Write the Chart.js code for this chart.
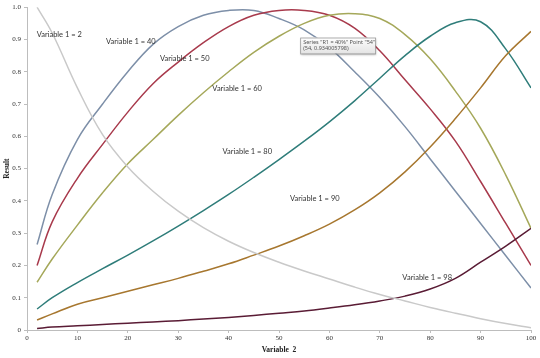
<!DOCTYPE html>
<html>
<head>
<meta charset="utf-8">
<script src="https://cdn.jsdelivr.net/npm/chart.js@4"></script>
<style>
  html, body { margin: 0; padding: 0; background: #fff; }
  #wrap { width: 540px; height: 358px; }
</style>
</head>
<body>
<div id="wrap"><canvas id="chart" width="540" height="358"></canvas></div>
<script>
// x positions (Variable 2)
const xs = [2, 5, 10, 15, 20, 25, 30, 35, 40, 45, 50, 55, 60, 65, 70, 75, 80, 85, 90, 95, 100];

// Result for each Variable 1 value
const v2  = [1.0, 0.92, 0.75, 0.605, 0.505, 0.43, 0.368, 0.317, 0.275, 0.24, 0.21, 0.183, 0.158, 0.133, 0.11, 0.09, 0.07, 0.052, 0.035, 0.02, 0.007];
const v40 = [0.265, 0.42, 0.59, 0.70, 0.80, 0.885, 0.94, 0.975, 0.99, 0.99, 0.965, 0.93, 0.875, 0.80, 0.72, 0.63, 0.53, 0.43, 0.33, 0.23, 0.13];
const v50 = [0.20, 0.335, 0.47, 0.575, 0.675, 0.763, 0.83, 0.89, 0.94, 0.975, 0.99, 0.99, 0.975, 0.935, 0.865, 0.775, 0.685, 0.585, 0.46, 0.33, 0.20];
const v60 = [0.148, 0.22, 0.325, 0.425, 0.515, 0.59, 0.665, 0.735, 0.80, 0.86, 0.91, 0.95, 0.975, 0.98, 0.965, 0.915, 0.84, 0.74, 0.625, 0.48, 0.315];
const v80 = [0.065, 0.10, 0.147, 0.19, 0.232, 0.276, 0.322, 0.37, 0.42, 0.473, 0.528, 0.585, 0.645, 0.71, 0.78, 0.85, 0.91, 0.952, 0.955, 0.87, 0.75];
const v90 = [0.031, 0.05, 0.08, 0.10, 0.12, 0.14, 0.16, 0.182, 0.205, 0.232, 0.26, 0.292, 0.328, 0.372, 0.425, 0.49, 0.567, 0.655, 0.75, 0.85, 0.925];
const v98 = [0.005, 0.009, 0.013, 0.017, 0.021, 0.025, 0.029, 0.034, 0.039, 0.045, 0.052, 0.059, 0.068, 0.078, 0.09, 0.105, 0.127, 0.16, 0.21, 0.26, 0.315];

// in-plot series labels (text, x, y in data units)
const labelTexts = ['Variable 1 = 2', 'Variable 1 = 40', 'Variable 1 = 50', 'Variable 1 = 60', 'Variable 1 = 80', 'Variable 1 = 90', 'Variable 1 = 98'];
const labelX = [6.4, 20.6, 31.3, 41.7, 43.7, 57.1, 79.4];
const labelY = [0.916, 0.895, 0.84, 0.749, 0.554, 0.406, 0.161];

// the hover box that sits on the "40" curve
const tipX = 54;
const tipY = 0.934;
const tipLines = ['Series "R1 = 40%" Point "54"', '(54, 0.934005798)'];

function pts(ys) {
    return xs.map((x, i) => ({ x: x, y: ys[i] }));
}

function series(ys, color) {
    return {
        data: pts(ys),
        borderColor: color,
        borderWidth: 1.5,
        pointRadius: 0,
        fill: false,
        tension: 0.4
    };
}

const labelsPlugin = {
    id: 'curveLabels',
    afterDatasetsDraw(chart) {
        const ctx = chart.ctx;
        const sx = chart.scales.x, sy = chart.scales.y;
        ctx.save();
        ctx.font = '7.5px Lato, sans-serif';
        ctx.fillStyle = '#333';
        ctx.textAlign = 'center';
        ctx.textBaseline = 'middle';
        labelTexts.forEach((t, i) => {
            ctx.fillText(t, sx.getPixelForValue(labelX[i]), sy.getPixelForValue(labelY[i]));
        });

        // tooltip-like box
        const bx = sx.getPixelForValue(tipX) + 1;
        const by = sy.getPixelForValue(tipY) + 9;
        const bw = 75, bh = 16;
        ctx.shadowColor = 'rgba(0,0,0,0.25)';
        ctx.shadowOffsetX = 1;
        ctx.shadowOffsetY = 1;
        ctx.shadowBlur = 2;
        const g = ctx.createLinearGradient(0, by, 0, by + bh);
        g.addColorStop(0, '#ffffff');
        g.addColorStop(1, '#e4e4e4');
        ctx.fillStyle = g;
        ctx.fillRect(bx, by, bw, bh);
        ctx.shadowColor = 'transparent';
        ctx.strokeStyle = '#9a9a9a';
        ctx.lineWidth = 0.8;
        ctx.strokeRect(bx + 0.5, by + 0.5, bw, bh);
        ctx.font = '5.5px "Noto Sans", sans-serif';
        ctx.fillStyle = '#555';
        ctx.textAlign = 'left';
        ctx.fillText(tipLines[0], bx + 3, by + 4.5);
        ctx.fillText(tipLines[1], bx + 3, by + 11);
        ctx.restore();
    }
};

const serif = '"Liberation Serif", "Times New Roman", serif';

new Chart(document.getElementById('chart'), {
    type: 'line',
    data: {
        datasets: [
            series(v2, '#c9c9c9'),
            series(v98, '#5a1c35'),
            series(v90, '#a7772f'),
            series(v80, '#2f7d7a'),
            series(v60, '#a5a85a'),
            series(v50, '#a83a4c'),
            series(v40, '#7d8fa8')
        ]
    },
    options: {
        responsive: false,
        animation: false,
        events: [],
        layout: { padding: { left: 0, right: 9, top: 7, bottom: 0 } },
        plugins: {
            legend: { display: false },
            tooltip: { enabled: false }
        },
        scales: {
            x: {
                type: 'linear',
                min: 0,
                max: 100,
                afterFit(s) { s.height = 28; },
                border: { color: '#bdbdbd', width: 1 },
                grid: { display: true, drawOnChartArea: false, drawTicks: true, tickLength: 3, color: '#bdbdbd' },
                ticks: { stepSize: 10, padding: 1, color: '#333', font: { family: serif, size: 7 } },
                title: { display: true, text: 'Variable  2', color: '#222', padding: { top: 0, bottom: 3 }, font: { family: serif, size: 7.5, weight: 'bold' } }
            },
            y: {
                min: 0,
                max: 1,
                afterFit(s) { s.width = 27; },
                border: { color: '#bdbdbd', width: 1 },
                grid: { display: true, drawOnChartArea: false, drawTicks: true, tickLength: 3, color: '#bdbdbd' },
                ticks: { stepSize: 0.1, padding: 3, color: '#333', font: { family: serif, size: 7 } },
                title: { display: true, text: 'Result', color: '#222', padding: { top: 3, bottom: 0 }, font: { family: serif, size: 7.5, weight: 'bold' } }
            }
        }
    },
    plugins: [labelsPlugin]
});
</script>
</body>
</html>
